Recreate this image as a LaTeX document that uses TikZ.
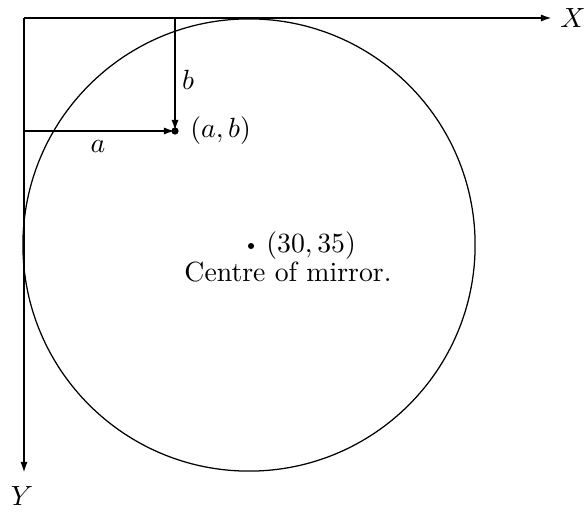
\documentclass[tikz,border=0pt]{standalone}
\usetikzlibrary{arrows.meta}

\begin{document}
\begin{tikzpicture}[x=0.36pt,y=-0.36pt,
    >={Latex[length=4pt,width=2.6pt]},
    axis/.style={line width=0.75pt,->},
    spot/.style={fill,circle,inner sep=0pt,minimum size=2.6pt}]
    \useasboundingbox (0,0) rectangle (585,511);
    \coordinate (O) at (24,18);
    \coordinate (XE) at (552,18);
    \coordinate (YE) at (24,473);
    \coordinate (BT) at (175,18);
    \coordinate (AL) at (24,131);
    \coordinate (C) at (249,245);
    \node[spot] (AB) at (175,131) {};
    \node[spot,minimum size=2.2pt] (CD) at (251,246) {};
    \draw[axis] (O) -- (XE);
    \draw[axis] (O) -- (YE);
    \draw[line width=0.45pt] (C) circle (81.4pt);
    \draw[axis] (BT) -- (AB.center);
    \draw[axis] (AL) -- (AB.center);
    \node (Xl) at (573,18) {$X$};
    \node (Yl) at (22,496) {$Y$};
    \node (bl) at (188,80) {$b$};
    \node (al) at (98,147) {$a$};
    \node[right=2pt] (ABl) at (AB) {$(a,b)$};
    \node[right=2pt] (Cl) at (CD) {$(30,35)$};
    \node (Ct) at (288,272) {Centre of mirror.};
\end{tikzpicture}
\end{document}
